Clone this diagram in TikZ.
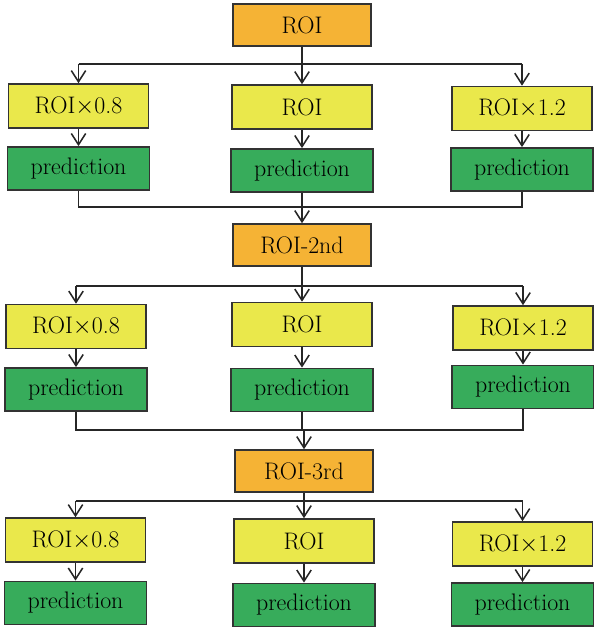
\documentclass[tikz,border=0pt]{standalone}
\usetikzlibrary{arrows.meta}
\definecolor{roiorange}{HTML}{F5B335}
\definecolor{scaleyellow}{HTML}{EAE84B}
\definecolor{predgreen}{HTML}{37AC5B}
\tikzset{
  boxbase/.style={draw=black!80, line width=1.1pt, inner sep=0pt, font=\fontsize{17}{20}\selectfont},
  roibox/.style={boxbase, fill=roiorange, minimum width=3.45cm, minimum height=1.05cm},
  scalebox/.style={boxbase, fill=scaleyellow, minimum width=3.5cm, minimum height=1.1cm},
  predbox/.style={boxbase, fill=predgreen, minimum width=3.55cm, minimum height=1.08cm},
  link/.style={line width=1.1pt, draw=black!85},
  linkarrow/.style={link, -{Straight Barb[length=0.28cm, width=0.36cm]}},
}
\begin{document}
\begin{tikzpicture}[x=0.025cm, y=-0.025cm]
\useasboundingbox (0,0) rectangle (593,630);
\node[roibox] (r1) at (302,25) {ROI};
\node[scalebox] (y1a) at (78.5,106) {ROI$\times$0.8};
\node[scalebox] (y1b) at (302,107) {ROI};
\node[scalebox] (y1c) at (522,108.5) {ROI$\times$1.2};
\node[predbox] (g1a) at (78.5,168.5) {prediction};
\node[predbox] (g1b) at (302,170.5) {prediction};
\node[predbox] (g1c) at (522,169.5) {prediction};
\node[roibox] (r2) at (302,245) {ROI-2nd};
\node[scalebox] (y2a) at (76,326.5) {ROI$\times$0.8};
\node[scalebox] (y2b) at (302,324.5) {ROI};
\node[scalebox] (y2c) at (523,328) {ROI$\times$1.2};
\node[predbox] (g2a) at (76,389.5) {prediction};
\node[predbox] (g2b) at (302,390) {prediction};
\node[predbox] (g2c) at (523,387) {prediction};
\node[roibox] (r3) at (304,471) {ROI-3rd};
\node[scalebox] (y3a) at (75.5,540) {ROI$\times$0.8};
\node[scalebox] (y3b) at (304,541) {ROI};
\node[scalebox] (y3c) at (522.5,544) {ROI$\times$1.2};
\node[predbox] (g3a) at (75.5,603) {prediction};
\node[predbox] (g3b) at (304,605) {prediction};
\node[predbox] (g3c) at (522.5,604.5) {prediction};
\coordinate (s1) at (0,64);
\coordinate (m1) at (0,207);
\coordinate (s2) at (0,286);
\coordinate (m2) at (0,430);
\coordinate (s3) at (0,501);
\draw[link] (r1.south) -- (r1.south |- s1);
\draw[link] (y1a.north |- s1) -- (y1c.north |- s1);
\draw[linkarrow] (y1a.north |- s1) -- (y1a.north);
\draw[linkarrow] (y1b.north |- s1) -- (y1b.north);
\draw[linkarrow] (y1c.north |- s1) -- (y1c.north);
\draw[linkarrow] (y1a.south) -- (g1a.north);
\draw[linkarrow] (y1b.south) -- (g1b.north);
\draw[linkarrow] (y1c.south) -- (g1c.north);
\draw[link] (g1a.south) -- (g1a.south |- m1) -- (g1c.south |- m1) -- (g1c.south);
\draw[linkarrow] (g1b.south) -- (r2.north);
\draw[link] (r2.south) -- (r2.south |- s2);
\draw[link] (y2a.north |- s2) -- (y2c.north |- s2);
\draw[linkarrow] (y2a.north |- s2) -- (y2a.north);
\draw[linkarrow] (y2b.north |- s2) -- (y2b.north);
\draw[linkarrow] (y2c.north |- s2) -- (y2c.north);
\draw[linkarrow] (y2a.south) -- (g2a.north);
\draw[linkarrow] (y2b.south) -- (g2b.north);
\draw[linkarrow] (y2c.south) -- (g2c.north);
\draw[link] (g2a.south) -- (g2a.south |- m2) -- (g2c.south |- m2) -- (g2c.south);
\draw[link] (g2b.south) -- (g2b.south |- m2);
\draw[linkarrow] (r3.north |- m2) -- (r3.north);
\draw[link] (r3.south) -- (r3.south |- s3);
\draw[link] (y3a.north |- s3) -- (y3c.north |- s3);
\draw[linkarrow] (y3a.north |- s3) -- (y3a.north);
\draw[linkarrow] (y3b.north |- s3) -- (y3b.north);
\draw[linkarrow] (y3c.north |- s3) -- (y3c.north);
\draw[linkarrow] (y3a.south) -- (g3a.north);
\draw[linkarrow] (y3b.south) -- (g3b.north);
\draw[linkarrow] (y3c.south) -- (g3c.north);
\end{tikzpicture}
\end{document}
